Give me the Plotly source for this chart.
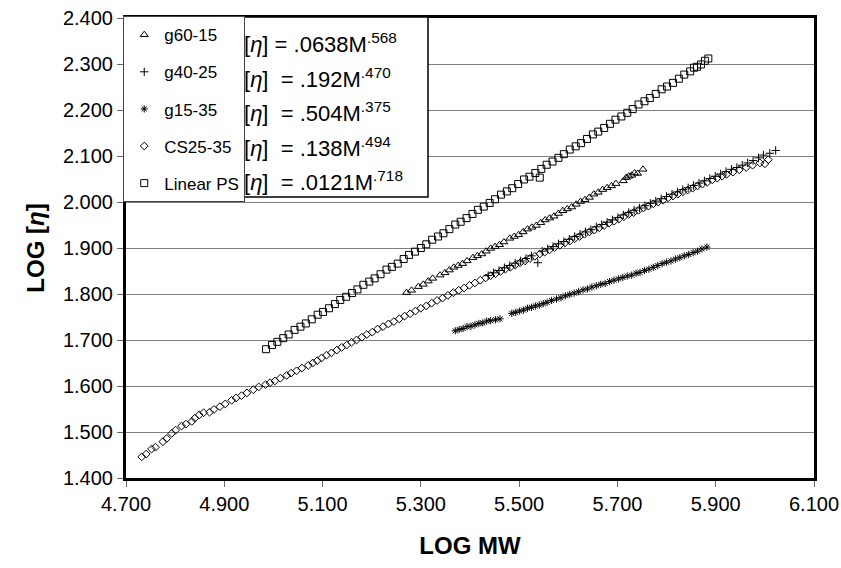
import plotly.graph_objects as go

# ---------------- data ----------------
series_names = ["g60-15", "g40-25", "g15-35", "CS25-35", "Linear PS"]

g60_x = [5.271, 5.281, 5.295, 5.305, 5.315, 5.324, 5.339, 5.349, 5.358, 5.367, 5.376, 5.385,
         5.394, 5.406, 5.415, 5.424, 5.433, 5.442, 5.451, 5.460, 5.469, 5.481, 5.490, 5.499,
         5.508, 5.517, 5.526, 5.535, 5.544, 5.553, 5.562, 5.571, 5.580, 5.589, 5.598, 5.607,
         5.616, 5.625, 5.634, 5.643, 5.652, 5.661, 5.670, 5.679, 5.688, 5.697, 5.712, 5.718,
         5.723, 5.729, 5.735, 5.741, 5.752]
g60_y = [1.803, 1.808, 1.816, 1.821, 1.828, 1.834, 1.841, 1.846, 1.852, 1.858, 1.862, 1.866,
         1.872, 1.879, 1.883, 1.887, 1.893, 1.899, 1.903, 1.907, 1.913, 1.921, 1.925, 1.929,
         1.935, 1.941, 1.945, 1.949, 1.955, 1.961, 1.965, 1.969, 1.975, 1.981, 1.985, 1.989,
         1.995, 2.001, 2.005, 2.010, 2.017, 2.021, 2.027, 2.031, 2.035, 2.040, 2.046, 2.053,
         2.056, 2.058, 2.063, 2.062, 2.071]

g40_x = [5.437, 5.448, 5.459, 5.470, 5.481, 5.492, 5.503, 5.514, 5.525, 5.538, 5.547, 5.558,
         5.569, 5.580, 5.591, 5.602, 5.613, 5.624, 5.635, 5.646, 5.657, 5.668, 5.679, 5.690,
         5.701, 5.712, 5.723, 5.734, 5.745, 5.756, 5.767, 5.778, 5.789, 5.800, 5.811, 5.822,
         5.833, 5.844, 5.855, 5.866, 5.877, 5.888, 5.899, 5.910, 5.921, 5.932, 5.943, 5.954,
         5.965, 5.976, 5.987, 5.997, 6.010, 6.022]
g40_y = [1.840, 1.846, 1.851, 1.857, 1.862, 1.867, 1.872, 1.877, 1.883, 1.868, 1.893, 1.898,
         1.903, 1.909, 1.914, 1.919, 1.925, 1.930, 1.935, 1.940, 1.946, 1.951, 1.956, 1.961,
         1.966, 1.972, 1.977, 1.982, 1.987, 1.992, 1.997, 2.002, 2.007, 2.012, 2.017, 2.022,
         2.027, 2.031, 2.036, 2.041, 2.046, 2.051, 2.056, 2.061, 2.066, 2.071, 2.075, 2.080,
         2.085, 2.090, 2.096, 2.102, 2.106, 2.112]

g15_x = [5.370, 5.378, 5.386, 5.394, 5.402, 5.410, 5.418, 5.426, 5.434, 5.442, 5.452, 5.461,
         5.485, 5.493, 5.501, 5.509, 5.517, 5.525, 5.533, 5.541, 5.549, 5.557, 5.566, 5.576,
         5.585, 5.594, 5.603, 5.612, 5.621, 5.630, 5.639, 5.648, 5.657, 5.666, 5.675, 5.684,
         5.693, 5.702, 5.711, 5.720, 5.729, 5.738, 5.746, 5.755, 5.764, 5.773, 5.782, 5.791,
         5.800, 5.809, 5.818, 5.827, 5.836, 5.845, 5.854, 5.863, 5.872, 5.882]
g15_y = [1.720, 1.723, 1.725, 1.729, 1.730, 1.733, 1.736, 1.737, 1.741, 1.742, 1.744, 1.746,
         1.758, 1.760, 1.763, 1.765, 1.769, 1.771, 1.774, 1.776, 1.779, 1.782, 1.786, 1.789,
         1.792, 1.796, 1.799, 1.802, 1.805, 1.809, 1.811, 1.815, 1.818, 1.821, 1.823, 1.827,
         1.830, 1.833, 1.836, 1.839, 1.841, 1.845, 1.847, 1.851, 1.854, 1.858, 1.862, 1.866,
         1.869, 1.872, 1.876, 1.879, 1.883, 1.886, 1.890, 1.893, 1.898, 1.902]

cs_x = [4.732, 4.741, 4.752, 4.760, 4.775, 4.783, 4.793, 4.801, 4.813, 4.822, 4.834, 4.840,
        4.849, 4.858, 4.870, 4.879, 4.891, 4.902, 4.915, 4.924, 4.935, 4.946, 4.959, 4.970,
        4.984, 4.993, 5.003, 5.014, 5.027, 5.036, 5.047, 5.058, 5.071, 5.080, 5.089, 5.098,
        5.108, 5.118, 5.129, 5.139, 5.149, 5.159, 5.169, 5.180, 5.190, 5.201, 5.212, 5.223,
        5.234, 5.245, 5.256, 5.267, 5.278, 5.289, 5.300, 5.311, 5.322, 5.333, 5.344, 5.355,
        5.366, 5.377, 5.388, 5.399, 5.410, 5.421, 5.432, 5.442, 5.452, 5.462, 5.472, 5.482,
        5.492, 5.502, 5.512, 5.522, 5.532, 5.542, 5.552, 5.562, 5.572, 5.583, 5.593, 5.603,
        5.613, 5.623, 5.633, 5.643, 5.653, 5.663, 5.673, 5.683, 5.693, 5.703, 5.713, 5.723,
        5.733, 5.743, 5.753, 5.763, 5.773, 5.783, 5.793, 5.803, 5.813, 5.823, 5.833, 5.843,
        5.853, 5.863, 5.873, 5.883, 5.893, 5.903, 5.913, 5.922, 5.935, 5.948, 5.962, 5.975,
        5.990, 6.000, 6.007]
cs_y = [1.446, 1.452, 1.463, 1.467, 1.479, 1.486, 1.497, 1.504, 1.513, 1.517, 1.523, 1.530,
        1.537, 1.542, 1.543, 1.549, 1.555, 1.561, 1.569, 1.574, 1.579, 1.585, 1.592, 1.598,
        1.603, 1.607, 1.611, 1.617, 1.623, 1.628, 1.633, 1.639, 1.645, 1.650, 1.655, 1.661,
        1.667, 1.672, 1.678, 1.684, 1.689, 1.695, 1.700, 1.706, 1.712, 1.717, 1.724, 1.729,
        1.735, 1.740, 1.746, 1.752, 1.757, 1.763, 1.769, 1.774, 1.780, 1.786, 1.791, 1.797,
        1.803, 1.808, 1.813, 1.819, 1.824, 1.830, 1.835, 1.840, 1.844, 1.849, 1.854, 1.858,
        1.863, 1.868, 1.872, 1.877, 1.882, 1.887, 1.891, 1.896, 1.901, 1.906, 1.911, 1.915,
        1.920, 1.925, 1.930, 1.935, 1.939, 1.944, 1.949, 1.954, 1.958, 1.963, 1.968, 1.973,
        1.977, 1.982, 1.987, 1.991, 1.996, 2.000, 2.004, 2.009, 2.013, 2.017, 2.022, 2.026,
        2.030, 2.035, 2.039, 2.043, 2.048, 2.052, 2.056, 2.060, 2.065, 2.070, 2.075, 2.080,
        2.085, 2.083, 2.092]

ps_x = [4.985, 4.997, 5.008, 5.020, 5.031, 5.043, 5.055, 5.066, 5.078, 5.090, 5.101, 5.113,
        5.125, 5.136, 5.148, 5.160, 5.171, 5.183, 5.195, 5.206, 5.218, 5.230, 5.241, 5.253,
        5.265, 5.276, 5.288, 5.300, 5.311, 5.323, 5.335, 5.346, 5.358, 5.370, 5.381, 5.393,
        5.405, 5.416, 5.428, 5.440, 5.451, 5.463, 5.475, 5.486, 5.498, 5.510, 5.521, 5.533,
        5.542, 5.545, 5.556, 5.568, 5.580, 5.591, 5.603, 5.615, 5.626, 5.638, 5.650, 5.661,
        5.673, 5.685, 5.696, 5.708, 5.720, 5.731, 5.743, 5.755, 5.766, 5.778, 5.790, 5.801,
        5.813, 5.825, 5.836, 5.848, 5.856, 5.862, 5.870, 5.878, 5.885]
ps_y = [1.680, 1.689, 1.696, 1.704, 1.712, 1.722, 1.729, 1.736, 1.745, 1.755, 1.761, 1.769,
        1.778, 1.787, 1.794, 1.802, 1.810, 1.820, 1.827, 1.834, 1.843, 1.853, 1.859, 1.866,
        1.876, 1.885, 1.892, 1.900, 1.908, 1.918, 1.925, 1.932, 1.941, 1.951, 1.957, 1.965,
        1.974, 1.983, 1.990, 1.998, 2.006, 2.016, 2.023, 2.030, 2.039, 2.049, 2.055, 2.063,
        2.053, 2.072, 2.081, 2.088, 2.096, 2.104, 2.114, 2.121, 2.128, 2.137, 2.147, 2.153,
        2.161, 2.170, 2.179, 2.186, 2.194, 2.202, 2.212, 2.219, 2.226, 2.235, 2.245, 2.251,
        2.259, 2.268, 2.277, 2.284, 2.292, 2.294, 2.299, 2.307, 2.312]

equations = [
    "[<i>η</i>] = .0638M<sup>.568</sup>",
    "[<i>η</i>]  = .192M<sup>.470</sup>",
    "[<i>η</i>]  = .504M<sup>.375</sup>",
    "[<i>η</i>]  = .138M<sup>.494</sup>",
    "[<i>η</i>]  = .0121M<sup>.718</sup>",
]

x_ticks = [4.7, 4.9, 5.1, 5.3, 5.5, 5.7, 5.9, 6.1]
y_ticks = [1.4, 1.5, 1.6, 1.7, 1.8, 1.9, 2.0, 2.1, 2.2, 2.3, 2.4]

# ---------------- figure ----------------
FONT = "Liberation Sans, Arial, sans-serif"
fig = go.Figure()

specs = [
    (g60_x, g60_y, "triangle-up-open", 7),
    (g40_x, g40_y, "cross-thin-open", 6),
    (g15_x, g15_y, "asterisk-open", 6),
    (cs_x, cs_y, "diamond-open", 6),
    (ps_x, ps_y, "square-open", 7),
]
for name, (xs, ys, sym, sz) in zip(series_names, specs):
    fig.add_trace(go.Scatter(
        x=xs, y=ys, mode="markers", name=name, legendgroup=name,
        marker=dict(symbol=sym, size=sz, color="black", line=dict(color="black", width=1)),
    ))

# equation box
fig.add_shape(type="rect", xref="paper", yref="paper",
              x0=(241 - 126) / 688, x1=(428 - 126) / 688,
              y0=(478 - 197) / 460, y1=(478 - 17) / 460,
              fillcolor="white", line=dict(color="black", width=1.5), layer="above")
eq_rows = [43, 78, 112, 147, 181]
for txt, py in zip(equations, eq_rows):
    fig.add_annotation(xref="paper", yref="paper", x=(242 - 126) / 688, y=(478 - py) / 460,
                       xanchor="left", yanchor="middle", text=txt, showarrow=False,
                       font=dict(family=FONT, size=22, color="black"))

fig.update_layout(
    width=841, height=568,
    margin=dict(l=126, r=27, t=18, b=90, autoexpand=False),
    paper_bgcolor="white", plot_bgcolor="white",
    font=dict(family=FONT, size=20, color="black"),
    showlegend=True,
    legend=dict(x=-0.004, y=1.004, xanchor="left", yanchor="top",
                bgcolor="white", bordercolor="#444", borderwidth=1,
                font=dict(family=FONT, size=17, color="black"),
                tracegroupgap=12, itemwidth=30),
    xaxis=dict(range=[4.7, 6.1], tickvals=x_ticks, tickformat=".3f",
               showline=True, mirror=True, linecolor="black", linewidth=3,
               ticks="outside", ticklen=6, tickcolor="#666", tickwidth=1,
               showgrid=False, zeroline=False,
               title=dict(text="<b>LOG MW</b>", font=dict(family=FONT, size=24), standoff=24)),
    yaxis=dict(range=[1.4, 2.4], tickvals=y_ticks, tickformat=".3f",
               showline=True, mirror=True, linecolor="black", linewidth=3,
               ticks="outside", ticklen=6, tickcolor="#666", tickwidth=1,
               showgrid=True, gridcolor="#808080", gridwidth=1, zeroline=False,
               title=dict(text="<b>LOG [<i>η</i>]</b>", font=dict(family=FONT, size=24), standoff=12)),
)

fig.write_html("out.html", config={"displayModeBar": False},
               post_script="document.body.style.margin='0px';")
